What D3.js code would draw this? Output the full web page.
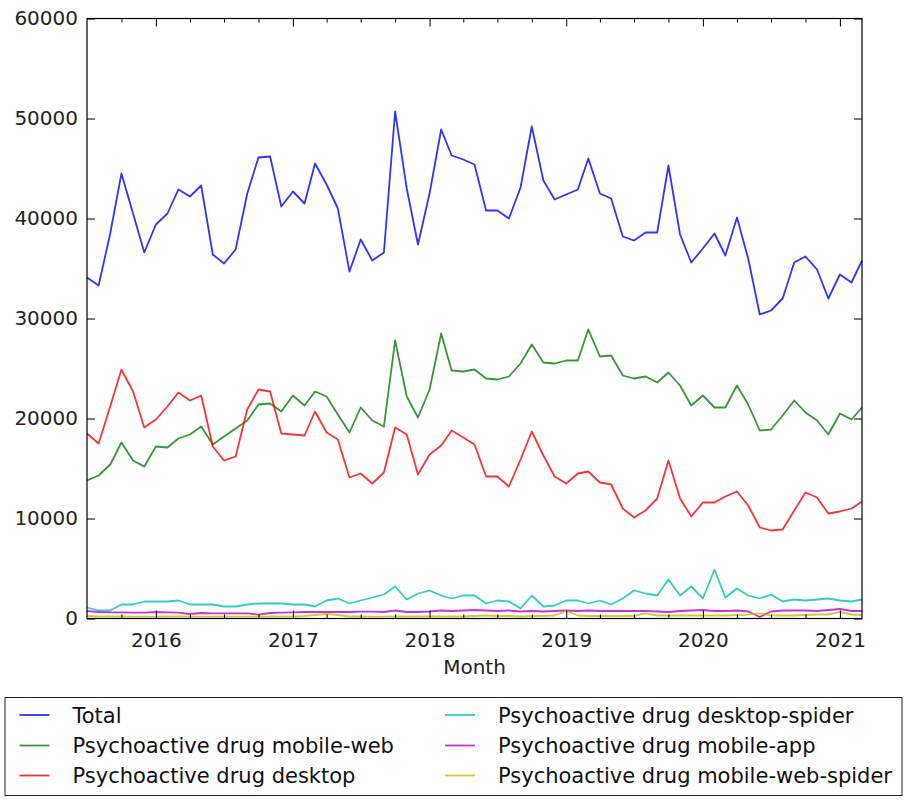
<!DOCTYPE html>
<html>
<head>
<meta charset="utf-8">
<script src="https://cdn.jsdelivr.net/npm/d3@7"></script>
<style>
  html, body { margin: 0; padding: 0; background: #fff; }
  svg { display: block; font-family: "DejaVu Sans", sans-serif; }
</style>
</head>
<body>
<svg id="chart" width="907" height="802"></svg>
<script>
// ---- data ----
const startMonth = "2015-07";
const endMonth = "2021-03";
const yTicks = [0, 10000, 20000, 30000, 40000, 50000, 60000];
const xTickYears = ["2016", "2017", "2018", "2019", "2020", "2021"];
const xLabel = "Month";

const seriesNames = [
  "Total",
  "Psychoactive drug mobile-web",
  "Psychoactive drug desktop",
  "Psychoactive drug desktop-spider",
  "Psychoactive drug mobile-app",
  "Psychoactive drug mobile-web-spider"
];
const seriesColors = ["#0000ff", "#008000", "#ff0000", "#00bfbf", "#bf00bf", "#bfbf00"];

const total = [
  34100, 33300, 38500, 44500, 40500, 36600, 39400, 40500, 42900, 42200,
  43300, 36400, 35500, 36900, 42500, 46100, 46200, 41200, 42700, 41500,
  45500, 43400, 41000, 34700, 37900, 35800, 36600, 50700, 43000, 37400,
  42500, 48900, 46300, 45900, 45400, 40800, 40800, 40000, 43100, 49200,
  43800, 41900, 42400, 42900, 46000, 42500, 42000, 38200, 37800, 38600,
  38600, 45300, 38400, 35600, 37000, 38500, 36300, 40100, 36000, 30400,
  30800, 32000, 35600, 36200, 34900, 32000, 34400, 33600, 35800
];
const mobileWeb = [
  13800, 14300, 15400, 17600, 15800, 15200, 17200, 17100, 18000, 18400,
  19200, 17400, 18200, 19000, 19800, 21400, 21500, 20700, 22300, 21300,
  22700, 22200, 20400, 18600, 21100, 19800, 19200, 27800, 22200, 20100,
  22900, 28500, 24800, 24700, 24900, 24000, 23900, 24200, 25500, 27400,
  25600, 25500, 25800, 25800, 28900, 26200, 26300, 24300, 24000, 24200,
  23600, 24600, 23300, 21300, 22300, 21100, 21100, 23300, 21400, 18800,
  18900, 20300, 21800, 20600, 19800, 18400, 20500, 19900, 21100
];
const desktop = [
  18500, 17500, 21200, 24900, 22700, 19100, 19900, 21200, 22600, 21800,
  22300, 17200, 15800, 16200, 20900, 22900, 22700, 18500, 18400, 18300,
  20700, 18600, 17900, 14100, 14500, 13500, 14600, 19100, 18400, 14400,
  16400, 17300, 18800, 18100, 17400, 14200, 14200, 13200, 15900, 18700,
  16300, 14200, 13500, 14500, 14700, 13600, 13400, 11000, 10100, 10800,
  12000, 15800, 12000, 10200, 11600, 11600, 12200, 12700, 11300, 9100,
  8800, 8900, 10800, 12600, 12100, 10500, 10700, 11000, 11700
];
const desktopSpider = [
  1100, 800, 800, 1400, 1400, 1700, 1700, 1700, 1800, 1400,
  1400, 1400, 1200, 1200, 1400, 1500, 1500, 1500, 1400, 1400,
  1200, 1800, 2000, 1500, 1800, 2100, 2400, 3200, 1900, 2500,
  2800, 2300, 2000, 2300, 2300, 1500, 1800, 1700, 1000, 2300,
  1200, 1300, 1800, 1800, 1500, 1800, 1400, 2000, 2800, 2500,
  2300, 3900, 2300, 3200, 2000, 4900, 2100, 3000, 2300, 2000,
  2400, 1700, 1900, 1800, 1900, 2000, 1800, 1700, 1900
];
const mobileApp = [
  750, 650, 620, 620, 580, 580, 650, 620, 580, 450,
  550, 520, 520, 520, 520, 380, 550, 580, 620, 650,
  650, 650, 650, 650, 680, 680, 650, 800, 650, 650,
  700, 800, 750, 800, 850, 800, 750, 800, 700, 750,
  700, 750, 800, 750, 800, 750, 750, 750, 750, 750,
  700, 650, 750, 800, 850, 750, 750, 800, 700, 150,
  700, 800, 800, 800, 750, 850, 950, 750, 750
];
const mobileWebSpider = [
  250, 200, 200, 200, 180, 180, 180, 200, 200, 200,
  180, 180, 200, 180, 180, 180, 200, 200, 200, 250,
  350, 450, 350, 200, 200, 180, 180, 200, 200, 200,
  200, 200, 200, 200, 250, 300, 250, 250, 200, 250,
  250, 300, 750, 300, 250, 250, 250, 250, 250, 520,
  300, 300, 300, 300, 300, 300, 300, 350, 400, 520,
  300, 300, 300, 350, 400, 400, 650, 400, 350
];
const seriesValues = [total, mobileWeb, desktop, desktopSpider, mobileApp, mobileWebSpider];

// ---- layout ----
const svg = d3.select("#chart");
const W = 907, H = 802;
const m = { left: 87, right: 862, top: 18.5, bottom: 618.5 };

const parseM = d3.timeParse("%Y-%m");
const months = d3.timeMonth.range(parseM(startMonth), d3.timeMonth.offset(parseM(endMonth), 1));

const x = d3.scaleTime().domain([parseM(startMonth), parseM(endMonth)]).range([m.left, m.right]);
const y = d3.scaleLinear().domain([0, 60000]).range([m.bottom, m.top]);

svg.append("rect").attr("width", W).attr("height", H).attr("fill", "#fff");

// lines
const g = svg.append("g");
seriesValues.forEach((vals, si) => {
  const line = d3.line().x((d, i) => x(months[i])).y(d => y(d));
  g.append("path")
    .datum(vals)
    .attr("d", line)
    .attr("fill", "none")
    .attr("stroke", seriesColors[si])
    .attr("stroke-opacity", 0.8)
    .attr("stroke-width", 1.8)
    .attr("stroke-linejoin", "round");
});

// frame
svg.append("rect")
  .attr("x", m.left).attr("y", m.top)
  .attr("width", m.right - m.left).attr("height", m.bottom - m.top)
  .attr("fill", "none").attr("stroke", "#000").attr("stroke-width", 1.2);

const tickColor = "#000";
const fontSize = 20;

// y ticks (both sides, inward)
const yAxisL = d3.axisLeft(y).tickValues(yTicks).tickFormat(d3.format("d")).tickSizeInner(-8).tickSizeOuter(0).tickPadding(9);
svg.append("g").attr("transform", `translate(${m.left},0)`).call(yAxisL);
const yAxisR = d3.axisRight(y).tickValues(yTicks).tickFormat("").tickSizeInner(-8).tickSizeOuter(0);
svg.append("g").attr("transform", `translate(${m.right},0)`).call(yAxisR);

// x ticks
const yearDates = xTickYears.map(s => d3.timeParse("%Y")(s));
const minorDates = d3.timeMonth.every(3).range(parseM(startMonth), d3.timeMonth.offset(parseM(endMonth), 1))
  .filter(d => d.getMonth() !== 0 && d > x.domain()[0] && d <= x.domain()[1]);

const xAxisB = d3.axisBottom(x).tickValues(yearDates).tickFormat(d3.timeFormat("%Y")).tickSizeInner(-8).tickSizeOuter(0).tickPadding(14);
svg.append("g").attr("transform", `translate(0,${m.bottom})`).call(xAxisB);
const xAxisBm = d3.axisBottom(x).tickValues(minorDates).tickFormat("").tickSizeInner(-4).tickSizeOuter(0);
svg.append("g").attr("transform", `translate(0,${m.bottom})`).call(xAxisBm);
const xAxisT = d3.axisTop(x).tickValues(yearDates).tickFormat("").tickSizeInner(-8).tickSizeOuter(0);
svg.append("g").attr("transform", `translate(0,${m.top})`).call(xAxisT);
const xAxisTm = d3.axisTop(x).tickValues(minorDates).tickFormat("").tickSizeInner(-4).tickSizeOuter(0);
svg.append("g").attr("transform", `translate(0,${m.top})`).call(xAxisTm);

svg.selectAll(".domain").remove();
svg.selectAll(".tick line").attr("stroke", tickColor).attr("stroke-width", 1);
svg.selectAll(".tick text")
  .attr("font-family", "DejaVu Sans, sans-serif")
  .attr("font-size", fontSize)
  .attr("fill", "#222");

// x label
svg.append("text")
  .attr("x", (m.left + m.right) / 2)
  .attr("y", 674)
  .attr("text-anchor", "middle")
  .attr("font-size", fontSize)
  .attr("fill", "#222")
  .text(xLabel);

// legend
const leg = svg.append("g");
leg.append("rect")
  .attr("x", 5).attr("y", 697.5).attr("width", 897).attr("height", 98)
  .attr("fill", "#fff").attr("stroke", "#222").attr("stroke-width", 1);
const rowsY = [715, 745.5, 775.5];
const colX = [19.5, 445];
seriesNames.forEach((name, i) => {
  const col = Math.floor(i / 3), row = i % 3;
  const lx = colX[col], ly = rowsY[row];
  leg.append("line")
    .attr("x1", lx).attr("x2", lx + 30)
    .attr("y1", ly).attr("y2", ly)
    .attr("stroke", seriesColors[i]).attr("stroke-opacity", 0.8).attr("stroke-width", 1.8);
  leg.append("text")
    .attr("x", lx + 53).attr("y", ly + 7.5)
    .attr("font-size", 21)
    .attr("fill", "#111")
    .text(name);
});
</script>
</body>
</html>
